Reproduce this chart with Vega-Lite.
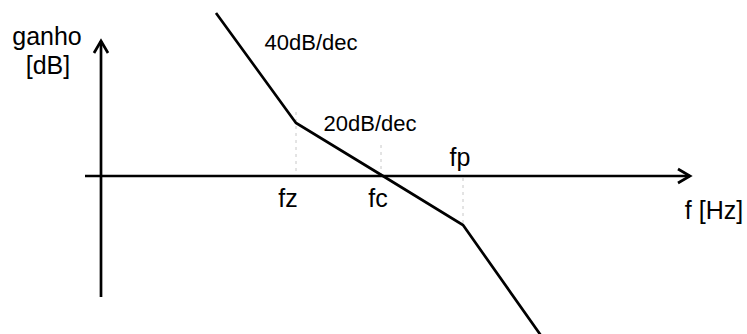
{
  "$schema": "https://vega.github.io/schema/vega-lite/v6.json",
  "width": 747,
  "height": 334,
  "padding": 0,
  "autosize": {"type": "fit", "contains": "padding"},
  "background": "white",
  "config": {"view": {"stroke": null}},
  "datasets": {
    "solid": [
      {"id": "axis_h", "i": 0, "x": 85, "y": 0},
      {"id": "axis_h", "i": 1, "x": 690, "y": 0},
      {"id": "arrow_h", "i": 0, "x": 678, "y": 7},
      {"id": "arrow_h", "i": 1, "x": 690, "y": 0},
      {"id": "arrow_h", "i": 2, "x": 678, "y": -7},
      {"id": "axis_v", "i": 0, "x": 101, "y": -121},
      {"id": "axis_v", "i": 1, "x": 101, "y": 135},
      {"id": "arrow_v", "i": 0, "x": 94, "y": 123},
      {"id": "arrow_v", "i": 1, "x": 101, "y": 135},
      {"id": "arrow_v", "i": 2, "x": 108, "y": 123},
      {"id": "curve", "i": 0, "x": 216, "y": 163},
      {"id": "curve", "i": 1, "x": 296, "y": 53},
      {"id": "curve", "i": 2, "x": 383, "y": 0},
      {"id": "curve", "i": 3, "x": 463, "y": -49},
      {"id": "curve", "i": 4, "x": 542, "y": -161}
    ],
    "dashed": [
      {"id": "fz", "i": 0, "x": 296, "y": 64},
      {"id": "fz", "i": 1, "x": 296, "y": 0},
      {"id": "fc", "i": 0, "x": 381, "y": 31},
      {"id": "fc", "i": 1, "x": 381, "y": 0},
      {"id": "fp", "i": 0, "x": 463, "y": -2},
      {"id": "fp", "i": 1, "x": 463, "y": -49}
    ],
    "bigText": [
      {"label": "ganho", "x": 47, "y": 131},
      {"label": "[dB]", "x": 48, "y": 102},
      {"label": "fz", "x": 288, "y": -31},
      {"label": "fc", "x": 378, "y": -31},
      {"label": "fp", "x": 460, "y": 10},
      {"label": "f [Hz]", "x": 714, "y": -43}
    ],
    "smallText": [
      {"label": "40dB/dec", "x": 311, "y": 126},
      {"label": "20dB/dec", "x": 370, "y": 45}
    ]
  },
  "layer": [
    {
      "data": {"name": "dashed"},
      "mark": {"type": "line", "color": "#c8c8c8", "strokeWidth": 1, "strokeDash": [3, 4]},
      "encoding": {
        "x": {"field": "x", "type": "quantitative", "scale": {"domain": [0, 747]}, "axis": null},
        "y": {"field": "y", "type": "quantitative", "scale": {"domain": [-158, 176]}, "axis": null},
        "detail": {"field": "id"},
        "order": {"field": "i"}
      }
    },
    {
      "data": {"name": "solid"},
      "mark": {"type": "line", "color": "black", "strokeWidth": 2.7, "strokeCap": "butt", "strokeJoin": "miter", "clip": true},
      "encoding": {
        "x": {"field": "x", "type": "quantitative", "scale": {"domain": [0, 747]}, "axis": null},
        "y": {"field": "y", "type": "quantitative", "scale": {"domain": [-158, 176]}, "axis": null},
        "detail": {"field": "id"},
        "order": {"field": "i"}
      }
    },
    {
      "data": {"name": "bigText"},
      "mark": {"type": "text", "font": "Liberation Sans", "fontSize": 25, "align": "center", "baseline": "alphabetic", "color": "black"},
      "encoding": {
        "x": {"field": "x", "type": "quantitative", "scale": {"domain": [0, 747]}, "axis": null},
        "y": {"field": "y", "type": "quantitative", "scale": {"domain": [-158, 176]}, "axis": null},
        "text": {"field": "label"}
      }
    },
    {
      "data": {"name": "smallText"},
      "mark": {"type": "text", "font": "Liberation Sans", "fontSize": 22, "align": "center", "baseline": "alphabetic", "color": "black"},
      "encoding": {
        "x": {"field": "x", "type": "quantitative", "scale": {"domain": [0, 747]}, "axis": null},
        "y": {"field": "y", "type": "quantitative", "scale": {"domain": [-158, 176]}, "axis": null},
        "text": {"field": "label"}
      }
    }
  ]
}
